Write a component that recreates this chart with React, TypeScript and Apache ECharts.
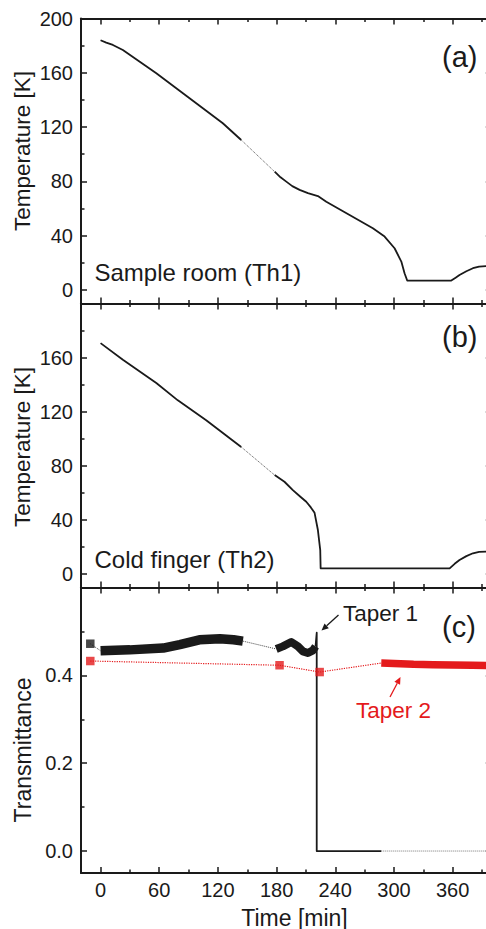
import React, { useEffect, useRef } from 'react';
import * as echarts from 'echarts';

const FONT = '"Liberation Sans", Arial, Helvetica, sans-serif';
const INK = '#1a1a1a';
const RED = '#e41a1c';

// ---- Panel (a): Sample room (Th1) ----
const th1TimeA = [0, 5.8, 12.6, 22.8, 57, 91, 125, 143.8];
const th1TempA = [184, 182.2, 180.5, 176.8, 159.6, 141.2, 122.8, 110.5];
const th1TimeB = [178, 184, 189.9, 196, 203.5, 212, 222.2, 230.8, 254.6, 278.4, 290.4, 300.6, 307.5, 310.8, 313.5, 358.6, 363, 367, 374, 380.7, 387, 400];
const th1TempB = [87.1, 83, 79.8, 76.5, 73.7, 71.3, 69.2, 65, 55.2, 45.4, 39.3, 30.7, 20.9, 12.3, 6.9, 6.9, 9, 11, 13.8, 16, 17.2, 17.8];

// ---- Panel (b): Cold finger (Th2) ----
const th2TimeA = [0, 22.8, 57, 79, 108, 143.8];
const th2TempA = [170.7, 158.4, 141.2, 128.4, 113.7, 93.9];
const th2TimeB = [178, 188, 196.6, 204, 210.3, 215, 218.8, 222.2, 224.6, 225, 356.9, 362, 367, 374, 380.7, 387, 400];
const th2TempB = [73.1, 68.2, 62, 57.3, 53.4, 49.2, 45.2, 32.5, 17.7, 4.2, 4.2, 7.5, 10.3, 13.2, 15.3, 16.3, 16.8];

// ---- Panel (c): Transmittance ----
const t1MarkerTime = [-10.5];
const t1MarkerVal = [0.472];
const t1Band1Time = [0, 30, 64, 81, 101, 122, 136, 145.5];
const t1Band1Val = [0.456, 0.458, 0.462, 0.47, 0.481, 0.4835, 0.481, 0.478];
const t1Band2Time = [179.6, 186.4, 195, 201.8, 206.9, 212, 217.1, 219.8];
const t1Band2Val = [0.46, 0.466, 0.476, 0.466, 0.4546, 0.4508, 0.4568, 0.466];
const t1DropTime = [219.8, 221, 221, 287];
const t1DropVal = [0.466, 0.497, 0, 0];
const t1TailTime = [287, 400];
const t1TailVal = [0, 0];

const t2MarkerTime = [-10.5, 183, 224];
const t2MarkerVal = [0.4326, 0.423, 0.4075];
const t2BandTime = [287, 300, 320, 340, 360, 380, 400];
const t2BandVal = [0.428, 0.427, 0.425, 0.424, 0.4235, 0.423, 0.422];

// ---- Axis ticks ----
const xMajor = [0, 60, 120, 180, 240, 300, 360];
const xMinor = [30, 90, 150, 210, 270, 330, 390];
const tMajor = [0, 40, 80, 120, 160, 200];
const tMinor = [20, 60, 100, 140, 180];
const tLabelsA = [0, 40, 80, 120, 160, 200];
const tLabelsB = [0, 40, 80, 120, 160];
const trMajor = [0, 0.2, 0.4, 0.6];
const trMinor = [0.1, 0.3, 0.5];
const trLabels = [0, 0.2, 0.4];

const pts = (xs: number[], ys: number[]) => xs.map((x, i) => [x, ys[i]]);

const labelStyle = { color: INK, fontSize: 20, fontFamily: FONT };

function xAxes(g: number, labels: boolean) {
  const common: any = { type: 'value', gridIndex: g, min: -20, max: 400, splitLine: { show: false } };
  const mk = (position: string, major: boolean, showLabel: boolean) => ({
    ...common,
    position,
    axisLine: { show: major, onZero: false, lineStyle: { color: INK, width: 2 } },
    axisTick: { show: true, inside: true, length: major ? 6 : 3.5, customValues: major ? xMajor : xMinor, lineStyle: { color: INK, width: 1.5 } },
    axisLabel: showLabel
      ? { show: true, customValues: xMajor, margin: 7, ...labelStyle }
      : { show: false },
  });
  return [mk('bottom', true, labels), mk('bottom', false, false), mk('top', true, false), mk('top', false, false)];
}

function yAxes(g: number, min: number, max: number, major: number[], minor: number[], labels: number[], fmt: (v: number) => string) {
  const common: any = { type: 'value', gridIndex: g, min, max, splitLine: { show: false } };
  const mk = (position: string, isMajor: boolean, showLabel: boolean) => ({
    ...common,
    position,
    axisLine: { show: isMajor, onZero: false, lineStyle: { color: INK, width: 2 } },
    axisTick: { show: true, inside: true, length: isMajor ? 6 : 3.5, customValues: isMajor ? major : minor, lineStyle: { color: INK, width: 1.5 } },
    axisLabel: showLabel
      ? { show: true, customValues: labels, margin: 8, formatter: (v: number) => fmt(v), ...labelStyle }
      : { show: false },
  });
  return [mk('left', true, true), mk('left', false, false), mk('right', true, false), mk('right', false, false)];
}

function line(g: number, xs: number[], ys: number[], color: string, width: number, type: string = 'solid', z = 2) {
  return {
    type: 'line',
    xAxisIndex: g * 4,
    yAxisIndex: g * 4,
    data: pts(xs, ys),
    symbol: 'none',
    showSymbol: false,
    silent: true,
    z,
    lineStyle: { color, width, type, cap: 'butt', join: 'round' },
  };
}

function markers(g: number, xs: number[], ys: number[], color: string) {
  return {
    type: 'scatter',
    xAxisIndex: g * 4,
    yAxisIndex: g * 4,
    data: pts(xs, ys),
    symbol: 'rect',
    symbolSize: 8.5,
    silent: true,
    z: 4,
    itemStyle: { color },
  };
}

function arrow(x1: number, y1: number, x2: number, y2: number, color: string) {
  const dx = x2 - x1, dy = y2 - y1;
  const len = Math.sqrt(dx * dx + dy * dy);
  const ux = dx / len, uy = dy / len;
  const hl = 7, hw = 3.2;
  const bx = x2 - ux * hl, by = y2 - uy * hl;
  return [
    { type: 'line', shape: { x1, y1, x2: bx, y2: by }, style: { stroke: color, lineWidth: 1.3 } },
    {
      type: 'polygon',
      shape: { points: [[x2, y2], [bx - uy * hw, by + ux * hw], [bx + uy * hw, by - ux * hw]] },
      style: { fill: color },
    },
  ];
}

function txt(x: number, y: number, text: string, size: number, color = INK, align = 'left', rotation = 0) {
  return {
    type: 'text',
    x,
    y,
    rotation,
    style: { text, fontSize: size, fontFamily: FONT, fill: color, align, verticalAlign: 'middle' },
  };
}

const first = (xs: number[], ys: number[]) => [xs[0], ys[0]];
const last = (xs: number[], ys: number[]) => [xs[xs.length - 1], ys[ys.length - 1]];

function buildOption() {
  const gA1 = last(th1TimeA, th1TempA), gA2 = first(th1TimeB, th1TempB);
  const gB1 = last(th2TimeA, th2TempA), gB2 = first(th2TimeB, th2TempB);
  const c1 = last(t1Band1Time, t1Band1Val), c2 = first(t1Band2Time, t1Band2Val);
  const m1 = first(t1MarkerTime, t1MarkerVal), b1 = first(t1Band1Time, t1Band1Val);
  const r2 = first(t2BandTime, t2BandVal);

  return {
    animation: false,
    backgroundColor: '#ffffff',
    grid: [
      { left: 81, right: 18.2, top: 18.5, height: 285, outerBoundsMode: 'none', containLabel: false },
      { left: 81, right: 18.2, top: 303.5, height: 284, outerBoundsMode: 'none', containLabel: false },
      { left: 81, right: 18.2, top: 587.5, height: 285.5, outerBoundsMode: 'none', containLabel: false },
    ],
    xAxis: [...xAxes(0, false), ...xAxes(1, false), ...xAxes(2, true)],
    yAxis: [
      ...yAxes(0, -10, 200, tMajor, tMinor, tLabelsA, (v) => String(v)),
      ...yAxes(1, -10, 200, tMajor, tMinor, tLabelsB, (v) => String(v)),
      ...yAxes(2, -0.05, 0.6, trMajor, trMinor, trLabels, (v) => v.toFixed(1)),
    ],
    series: [
      line(0, th1TimeA, th1TempA, INK, 1.8),
      line(0, [gA1[0], gA2[0]], [gA1[1], gA2[1]], '#555', 1, 'dotted'),
      line(0, th1TimeB, th1TempB, INK, 1.8),

      line(1, th2TimeA, th2TempA, INK, 1.8),
      line(1, [gB1[0], gB2[0]], [gB1[1], gB2[1]], '#555', 1, 'dotted'),
      line(1, th2TimeB, th2TempB, INK, 1.8),

      line(2, [m1[0], b1[0]], [m1[1], b1[1]], '#444', 1, 'dotted'),
      line(2, t1Band1Time, t1Band1Val, INK, 9.5),
      line(2, [c1[0], c2[0]], [c1[1], c2[1]], '#444', 1, 'dotted'),
      line(2, t1Band2Time, t1Band2Val, INK, 8),
      line(2, t1DropTime, t1DropVal, INK, 1.8),
      line(2, t1TailTime, t1TailVal, '#777', 1, 'dotted'),
      markers(2, t1MarkerTime, t1MarkerVal, INK),

      line(2, [...t2MarkerTime, r2[0]], [...t2MarkerVal, r2[1]], RED, 1.2, 'dotted'),
      line(2, t2BandTime, t2BandVal, RED, 7.5, 'solid', 3),
      markers(2, t2MarkerTime, t2MarkerVal, RED),
    ],
    graphic: [
      txt(22.5, 151, 'Temperature [K]', 22.5, INK, 'center', Math.PI / 2),
      txt(22.5, 447, 'Temperature [K]', 22.5, INK, 'center', Math.PI / 2),
      txt(22.5, 750, 'Transmittance', 23, INK, 'center', Math.PI / 2),
      txt(294.5, 917.5, 'Time [min]', 23, INK, 'center'),
      txt(442, 57, '(a)', 29),
      txt(442, 336.5, '(b)', 29),
      txt(442, 627, '(c)', 29),
      txt(94.5, 272, 'Sample room (Th1)', 24),
      txt(94.5, 559.5, 'Cold finger (Th2)', 24),
      txt(343, 613, 'Taper 1', 22.5),
      txt(356, 710.5, 'Taper 2', 22.5, RED),
      ...arrow(338.5, 615, 321.5, 630.5, INK),
      ...arrow(390, 697, 400.5, 677, RED),
    ],
  };
}

export default function App() {
  const ref = useRef<HTMLDivElement>(null);
  useEffect(() => {
    const chart = echarts.init(ref.current!, null, { renderer: 'svg' });
    chart.setOption(buildOption() as any);
    return () => chart.dispose();
  }, []);
  return (
    <div style={{ position: 'fixed', left: 0, top: 0, width: 486, height: 929, overflow: 'hidden', background: '#fff' }}>
      <div ref={ref} style={{ width: 510, height: 929 }} />
    </div>
  );
}
